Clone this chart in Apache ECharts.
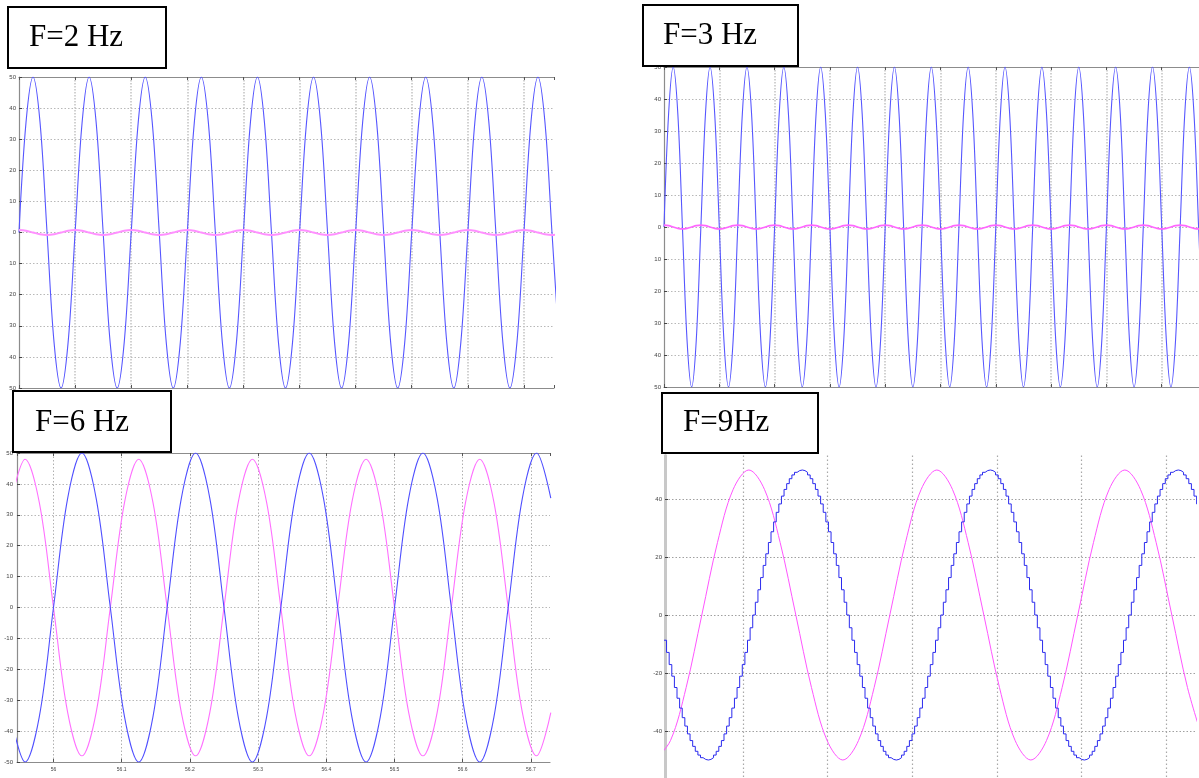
<!DOCTYPE html>
<html><head><meta charset="utf-8">
<script src="https://cdn.jsdelivr.net/npm/echarts@6/dist/echarts.min.js"></script>
<style>html,body{margin:0;padding:0;background:#fff}#c{width:1199px;height:778px}</style>
</head><body><div id="c"></div>
<script>
const titles = ['F=2 Hz', 'F=3 Hz', 'F=6 Hz', 'F=9Hz'];

// Panel 1 (F=2 Hz): samples every 1/16 s from t = 0
const p1Start = 0, p1Step = 1 / 16;
const p1Blue = [
  0, 35.4, 50, 35.4, 0, -35.4, -50, -35.4,
  0, 35.4, 50, 35.4, 0, -35.4, -50, -35.4,
  0, 35.4, 50, 35.4, 0, -35.4, -50, -35.4,
  0, 35.4, 50, 35.4, 0, -35.4, -50, -35.4,
  0, 35.4, 50, 35.4, 0, -35.4, -50, -35.4,
  0, 35.4, 50, 35.4, 0, -35.4, -50, -35.4,
  0, 35.4, 50, 35.4, 0, -35.4, -50, -35.4,
  0, 35.4, 50, 35.4, 0, -35.4, -50, -35.4,
  0, 35.4, 50, 35.4, 0, -35.4, -50, -35.4,
  0, 35.4, 50, 35.4, 0, -35.4
];
const p1Pink = [
  0.8, 0.57, 0, -0.57, -0.8, -0.57, 0, 0.57,
  0.8, 0.57, 0, -0.57, -0.8, -0.57, 0, 0.57,
  0.8, 0.57, 0, -0.57, -0.8, -0.57, 0, 0.57,
  0.8, 0.57, 0, -0.57, -0.8, -0.57, 0, 0.57,
  0.8, 0.57, 0, -0.57, -0.8, -0.57, 0, 0.57,
  0.8, 0.57, 0, -0.57, -0.8, -0.57, 0, 0.57,
  0.8, 0.57, 0, -0.57, -0.8, -0.57, 0, 0.57,
  0.8, 0.57, 0, -0.57, -0.8, -0.57, 0, 0.57,
  0.8, 0.57, 0, -0.57, -0.8, -0.57, 0, 0.57,
  0.8, 0.57, 0, -0.57, -0.8, -0.57
];

// Panel 2 (F=3 Hz): samples every 1/24 s from t = 0
const p2Start = 0, p2Step = 1 / 24;
const p2Blue = [
  0, 35.4, 50, 35.4, 0, -35.4, -50, -35.4,
  0, 35.4, 50, 35.4, 0, -35.4, -50, -35.4,
  0, 35.4, 50, 35.4, 0, -35.4, -50, -35.4,
  0, 35.4, 50, 35.4, 0, -35.4, -50, -35.4,
  0, 35.4, 50, 35.4, 0, -35.4, -50, -35.4,
  0, 35.4, 50, 35.4, 0, -35.4, -50, -35.4,
  0, 35.4, 50, 35.4, 0, -35.4, -50, -35.4,
  0, 35.4, 50, 35.4, 0, -35.4, -50, -35.4,
  0, 35.4, 50, 35.4, 0, -35.4, -50, -35.4,
  0, 35.4, 50, 35.4, 0, -35.4, -50, -35.4,
  0, 35.4, 50, 35.4, 0, -35.4, -50, -35.4,
  0, 35.4, 50, 35.4, 0, -35.4, -50, -35.4,
  0, 35.4, 50, 35.4, 0, -35.4, -50, -35.4,
  0, 35.4, 50, 35.4, 0, -35.4, -50, -35.4,
  0, 35.4, 50, 35.4, 0, -35.4
];
const p2Pink = [
  0.6, 0.42, 0, -0.42, -0.6, -0.42, 0, 0.42,
  0.6, 0.42, 0, -0.42, -0.6, -0.42, 0, 0.42,
  0.6, 0.42, 0, -0.42, -0.6, -0.42, 0, 0.42,
  0.6, 0.42, 0, -0.42, -0.6, -0.42, 0, 0.42,
  0.6, 0.42, 0, -0.42, -0.6, -0.42, 0, 0.42,
  0.6, 0.42, 0, -0.42, -0.6, -0.42, 0, 0.42,
  0.6, 0.42, 0, -0.42, -0.6, -0.42, 0, 0.42,
  0.6, 0.42, 0, -0.42, -0.6, -0.42, 0, 0.42,
  0.6, 0.42, 0, -0.42, -0.6, -0.42, 0, 0.42,
  0.6, 0.42, 0, -0.42, -0.6, -0.42, 0, 0.42,
  0.6, 0.42, 0, -0.42, -0.6, -0.42, 0, 0.42,
  0.6, 0.42, 0, -0.42, -0.6, -0.42, 0, 0.42,
  0.6, 0.42, 0, -0.42, -0.6, -0.42, 0, 0.42,
  0.6, 0.42, 0, -0.42, -0.6, -0.42, 0, 0.42,
  0.6, 0.42, 0, -0.42, -0.6, -0.42
];

// Panel 3 (F=6 Hz): samples every 1/48 s from t = 55.9375
const p3Start = 55.9375, p3Step = 1 / 48;
const p3Blue = [
  -35.4, -50, -35.4,
  0, 35.4, 50, 35.4, 0, -35.4, -50, -35.4,
  0, 35.4, 50, 35.4, 0, -35.4, -50, -35.4,
  0, 35.4, 50, 35.4, 0, -35.4, -50, -35.4,
  0, 35.4, 50, 35.4, 0, -35.4, -50, -35.4,
  0, 35.4, 50, 35.4
];
const p3Pink = [
  34, 48, 34,
  0, -34, -48, -34, 0, 34, 48, 34,
  0, -34, -48, -34, 0, 34, 48, 34,
  0, -34, -48, -34, 0, 34, 48, 34,
  0, -34, -48, -34, 0, 34, 48, 34,
  0, -34, -48, -34
];
const p3Labels = ['56', '56.1', '56.2', '56.3', '56.4', '56.5', '56.6', '56.7'];

// Panel 4 (F=9 Hz): blue is sample-and-hold, one sample every 1/648 s
const p4Start = 0.05327, p4Step = 1 / 648;
const p4Blue = [
  -8.7, -12.9, -17.1, -21.1, -25, -28.7, -32.1, -35.4, -38.3, -41, -43.3, -45.3, -47, -48.3, -49.2, -49.8, -50,
  -49.8, -49.2, -48.3, -47, -45.3, -43.3, -41, -38.3, -35.4, -32.1, -28.7, -25, -21.1, -17.1, -12.9, -8.7, -4.4, 0,
  4.4, 8.7, 12.9, 17.1, 21.1, 25, 28.7, 32.1, 35.4, 38.3, 41, 43.3, 45.3, 47, 48.3, 49.2, 49.8, 50,
  49.8, 49.2, 48.3, 47, 45.3, 43.3, 41, 38.3, 35.4, 32.1, 28.7, 25, 21.1, 17.1, 12.9, 8.7, 4.4, 0,
  -4.4, -8.7, -12.9, -17.1, -21.1, -25, -28.7, -32.1, -35.4, -38.3, -41, -43.3, -45.3, -47, -48.3, -49.2, -49.8, -50,
  -49.8, -49.2, -48.3, -47, -45.3, -43.3, -41, -38.3, -35.4, -32.1, -28.7, -25, -21.1, -17.1, -12.9, -8.7, -4.4, 0,
  4.4, 8.7, 12.9, 17.1, 21.1, 25, 28.7, 32.1, 35.4, 38.3, 41, 43.3, 45.3, 47, 48.3, 49.2, 49.8, 50,
  49.8, 49.2, 48.3, 47, 45.3, 43.3, 41, 38.3, 35.4, 32.1, 28.7, 25, 21.1, 17.1, 12.9, 8.7, 4.4, 0,
  -4.4, -8.7, -12.9, -17.1, -21.1, -25, -28.7, -32.1, -35.4, -38.3, -41, -43.3, -45.3, -47, -48.3, -49.2, -49.8, -50,
  -49.8, -49.2, -48.3, -47, -45.3, -43.3, -41, -38.3, -35.4, -32.1, -28.7, -25, -21.1, -17.1, -12.9, -8.7, -4.4, 0,
  4.4, 8.7, 12.9, 17.1, 21.1, 25, 28.7, 32.1, 35.4, 38.3, 41, 43.3, 45.3, 47, 48.3, 49.2, 49.8, 50,
  49.8, 49.2, 48.3, 47, 45.3, 43.3, 41, 38.3, 35.4
];
const p4PinkStart = 0.0525 - 4 / 864, p4PinkStep = 8 / 864;
const p4Pink = [
  -50, -43.3, -25, 0, 25, 43.3, 50, 43.3, 25, 0, -25, -43.3,
  -50, -43.3, -25, 0, 25, 43.3, 50, 43.3, 25, 0, -25, -43.3,
  -50, -43.3, -25, 0, 25, 43.3, 50, 43.3, 25, 0, -25, -43.3
];

// axis ranges (seconds / amplitude)
const xRanges = [[0, 4.768], [0, 4.837], [55.9465, 56.728], [0.05389, 0.36772]];
const yRanges = [[-50, 50], [-50, 50], [-50, 50], [-60, 55]];

function pairs(t0, dt, vals) { return vals.map((v, i) => [t0 + i * dt, v]); }

const grids = [
  {left: 19, top: 77, width: 535, height: 311},
  {left: 664, top: 67, width: 535, height: 320},
  {left: 17, top: 453, width: 533, height: 309},
  {left: 665, top: 455.5, width: 531, height: 333.5}
].map(g => Object.assign({outerBoundsMode: 'none', containLabel: false, show: false}, g));

const labelFont = {fontSize: 6, color: '#444', fontFamily: 'Liberation Sans'};
const dotted = {color: '#b8b8b8', type: [1.5, 2], width: 1};
const vGrid = {color: '#c2c2c2', type: [1.5, 1.5], width: 1.5};

function xAxisFor(i, pos, opts) {
  const base = {
    gridIndex: i, type: 'value', position: pos,
    min: xRanges[i][0], max: xRanges[i][1],
    axisLine: {show: true, onZero: false, lineStyle: {color: '#8c8c8c', width: 1.2}},
    axisTick: {show: true, inside: true, length: 3, lineStyle: {color: '#555'}},
    axisLabel: {show: false},
    splitLine: {show: false}
  };
  return Object.assign(base, opts || {});
}

const xAxes = [
  xAxisFor(0, 'bottom', {interval: 0.5, splitLine: {show: true, showMinLine: false, showMaxLine: false, lineStyle: vGrid}}),
  xAxisFor(0, 'top', {interval: 0.5}),
  xAxisFor(1, 'bottom', {interval: 0.5, splitLine: {show: true, showMinLine: false, showMaxLine: false, lineStyle: vGrid}}),
  xAxisFor(1, 'top', {interval: 0.5}),
  xAxisFor(2, 'bottom', {splitNumber: 8,
    splitLine: {show: true, showMinLine: false, showMaxLine: false, lineStyle: {color: '#b0b0b0', type: [1.5, 2], width: 1}},
    axisLabel: {show: true, margin: 5, showMinLabel: false, showMaxLabel: false, fontSize: 5,
      color: '#444', fontFamily: 'Liberation Sans',
      formatter: v => {
        const r = Math.round(v * 10);
        if (Math.abs(v * 10 - r) > 1e-6) return '';
        const idx = r - 560;
        return p3Labels[idx] !== undefined ? p3Labels[idx] : '';
      }}}),
  xAxisFor(2, 'top', {splitNumber: 8}),
  xAxisFor(3, 'bottom', {splitNumber: 6, axisLine: {show: false, onZero: false}, axisTick: {show: false},
    splitLine: {show: true, showMinLine: false, showMaxLine: false, lineStyle: {color: '#a8a8a8', type: [1.5, 2.5], width: 1.2}}})
];

function yAxisFor(i, opts) {
  const base = {
    gridIndex: i, type: 'value', min: yRanges[i][0], max: yRanges[i][1], interval: 10,
    axisLine: {show: true, onZero: false, lineStyle: {color: '#8c8c8c', width: 1.2}},
    axisTick: {show: true, inside: true, length: 3, lineStyle: {color: '#444'}},
    axisLabel: Object.assign({margin: 3}, labelFont),
    splitLine: {show: true, showMinLine: false, showMaxLine: false, lineStyle: dotted}
  };
  return Object.assign(base, opts || {});
}

const yAxes = [
  yAxisFor(0, {axisLabel: Object.assign({margin: 3, formatter: v => String(Math.abs(v))}, labelFont)}),
  yAxisFor(1, {axisLabel: Object.assign({margin: 3, formatter: v => String(Math.abs(v))}, labelFont)}),
  yAxisFor(2, {axisLabel: Object.assign({margin: 4}, labelFont)}),
  yAxisFor(3, {interval: 20,
    axisLine: {show: true, onZero: false, lineStyle: {color: '#c8c8c8', width: 3}},
    axisLabel: Object.assign({margin: 3, showMaxLabel: false}, labelFont),
    splitLine: {show: true, showMinLine: false, showMaxLine: false, lineStyle: {color: '#a0a0a0', type: [1.5, 2], width: 1}}})
];

function line(xi, yi, data, color, width, extra) {
  return Object.assign({
    type: 'line', xAxisIndex: xi, yAxisIndex: yi, data: data,
    symbol: 'none', showSymbol: false, smooth: 0.35, clip: true,
    lineStyle: {color: color, width: width}, silent: true, animation: false
  }, extra || {});
}

const series = [
  line(0, 0, pairs(p1Start, p1Step, p1Blue), '#5656ff', 1.1),
  line(0, 0, pairs(p1Start, p1Step, p1Pink), '#ff90ff', 2),
  line(2, 1, pairs(p2Start, p2Step, p2Blue), '#5656ff', 1.1),
  line(2, 1, pairs(p2Start, p2Step, p2Pink), '#ff66ff', 1.6),
  line(4, 2, pairs(p3Start, p3Step, p3Pink), '#ff70ff', 1.1),
  line(4, 2, pairs(p3Start, p3Step, p3Blue), '#4f4fff', 1.1),
  line(6, 3, pairs(p4PinkStart, p4PinkStep, p4Pink), '#ff55ff', 1),
  line(6, 3, pairs(p4Start, p4Step, p4Blue), '#2a2aee', 1, {smooth: false, step: 'end'})
];

const boxes = [
  {x: 8, y: 7, w: 158, h: 61, tx: 29, ty: 37.5},
  {x: 643, y: 5, w: 155, h: 61, tx: 663, ty: 36},
  {x: 13, y: 391, w: 158, h: 61, tx: 35, ty: 422.5},
  {x: 662, y: 393, w: 156, h: 60, tx: 683, ty: 423}
];
const graphic = [];
boxes.forEach((b, i) => {
  graphic.push({type: 'rect', z: 100, shape: {x: b.x, y: b.y, width: b.w, height: b.h},
    style: {fill: '#fff', stroke: '#000', lineWidth: 2}});
  graphic.push({type: 'text', z: 101, x: b.tx, y: b.ty,
    style: {text: titles[i], font: '31px "Liberation Serif"', fill: '#000', align: 'left', verticalAlign: 'middle'}});
});

const chart = echarts.init(document.getElementById('c'), null, {renderer: 'canvas'});
chart.setOption({
  animation: false,
  backgroundColor: '#fff',
  grid: grids,
  xAxis: xAxes,
  yAxis: yAxes,
  series: series,
  graphic: graphic
});
</script>
</body></html>
